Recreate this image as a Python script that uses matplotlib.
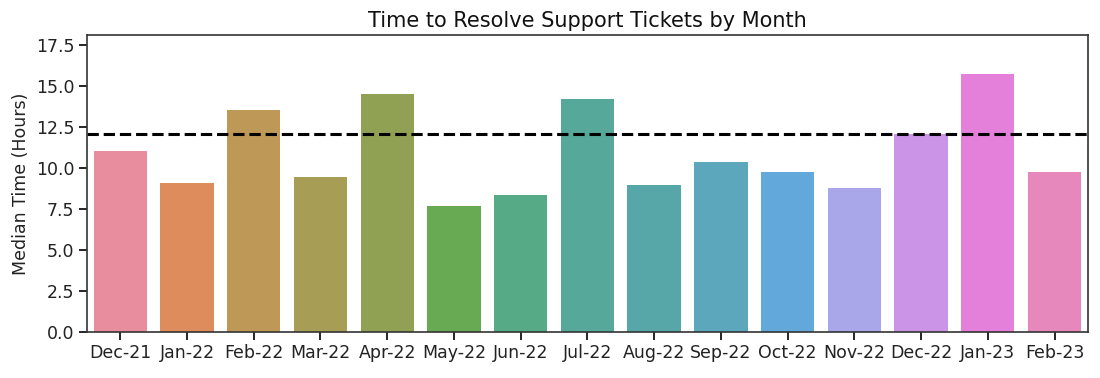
import matplotlib
matplotlib.use("Agg")
import matplotlib.pyplot as plt
import seaborn as sns
import pandas as pd

# --------------------------------------------------
# Data
# --------------------------------------------------
months = [
    "Dec-21", "Jan-22", "Feb-22", "Mar-22", "Apr-22", "May-22", "Jun-22",
    "Jul-22", "Aug-22", "Sep-22", "Oct-22", "Nov-22", "Dec-22", "Jan-23",
    "Feb-23",
]
median_hours = [
    11.05, 9.1, 13.55, 9.43, 14.5, 7.7, 8.34,
    14.2, 8.95, 10.37, 9.74, 8.8, 12.1, 15.76,
    9.74,
]
target_hours = 12.05


# --------------------------------------------------
# Plot
# --------------------------------------------------
df = pd.DataFrame({"month": months, "hours": median_hours})

fig, ax = plt.subplots(figsize=(11, 3.78), dpi=100)

palette = sns.color_palette("husl", len(months))
sns.barplot(
    data=df,
    x="month",
    y="hours",
    hue="month",
    palette=palette,
    saturation=0.75,
    alpha=0.9,
    legend=False,
    ax=ax,
)

ax.axhline(y=target_hours, color="black", linestyle="--", linewidth=2.2)

ax.set_ylim(0, 18.1)
ax.set_yticks([0, 2.5, 5, 7.5, 10, 12.5, 15, 17.5])
ax.set_xlabel("")
ax.set_ylabel("Median Time (Hours)", fontsize=12.5, color="#222222")
ax.set_title("Time to Resolve Support Tickets by Month", fontsize=15, color="#111111")
ax.tick_params(labelsize=12.5, length=5.5, width=1.2, labelcolor="#222222")
for spine in ax.spines.values():
    spine.set_linewidth(1.2)
    spine.set_color("#333333")

plt.subplots_adjust(left=0.079, right=0.989, top=0.907, bottom=0.122)
plt.savefig("out.png")
plt.close()
